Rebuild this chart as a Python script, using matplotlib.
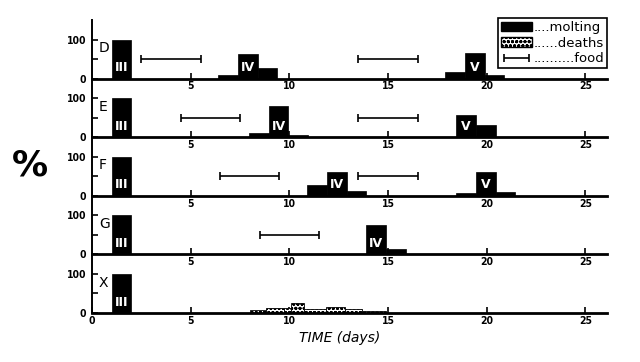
import matplotlib
matplotlib.use('Agg')
import matplotlib.pyplot as plt
from matplotlib.patches import Patch
from matplotlib.container import ErrorbarContainer
from matplotlib.legend_handler import HandlerErrorbar
from matplotlib import font_manager

# ---- data (days, percent) ----
panel_names = ['D', 'E', 'F', 'G', 'X']

molt_left = {
    'D': [1.0, 6.4, 7.4, 8.4, 17.9, 18.9, 19.9],
    'E': [1.0, 7.95, 8.95, 9.95, 18.45, 19.45],
    'F': [1.0, 10.9, 11.9, 12.9, 18.45, 19.45, 20.45],
    'G': [1.0, 13.9, 14.9],
    'X': [1.0],
}
molt_pct = {
    'D': [100, 10, 64, 26, 18, 66, 10],
    'E': [100, 10, 79, 6, 58, 32],
    'F': [100, 28, 62, 12, 8, 62, 10],
    'G': [100, 76, 15],
    'X': [100],
}

# stage labels: (stage, day of bar centre)
stage_labels = {
    'D': [('III', 1.5), ('IV', 7.9), ('V', 19.4)],
    'E': [('III', 1.5), ('IV', 9.45), ('V', 18.95)],
    'F': [('III', 1.5), ('IV', 12.4), ('V', 19.95)],
    'G': [('III', 1.5), ('IV', 14.4)],
    'X': [('III', 1.5)],
}

# feeding periods (start, end)
food = {
    'D': [(2.5, 5.5), (13.5, 16.5)],
    'E': [(4.5, 7.5), (13.5, 16.5)],
    'F': [(6.5, 9.5), (13.5, 16.5)],
    'G': [(8.5, 11.5)],
    'X': [],
}

# deaths in X
death_left = [8.0, 8.8, 9.75, 10.1, 10.75, 11.85, 12.8, 13.7]
death_right = [8.8, 9.75, 10.1, 10.75, 11.85, 12.8, 13.7, 14.9]
death_pct = [7, 14, 14, 26, 9, 16, 9, 4]

xticks = [5, 10, 15, 20, 25]

# narrow bold font for the numbers if there is one
names = {f.name for f in font_manager.fontManager.ttflist}
narrow = 'Liberation Sans Narrow' if 'Liberation Sans Narrow' in names else 'DejaVu Sans'
tick_font = dict(family=narrow, weight='bold', stretch='condensed', size=7.5)

fig = plt.figure(figsize=(6.4, 3.62), dpi=100)
left, right = 92 / 640, 607 / 640
top, bottom = 1 - 20 / 362, 1 - 313 / 362
h = (top - bottom) / len(panel_names)

axes = []
food_handle = None
for i, name in enumerate(panel_names):
    ax = fig.add_axes([left, top - (i + 1) * h, right - left, h])
    ax.patch.set_alpha(0)
    ax.set_xlim(0, 26.1)
    ax.set_ylim(0, 150)
    for s in ['top', 'right']:
        ax.spines[s].set_visible(False)
    ax.spines['bottom'].set_linewidth(2.0)
    ax.spines['left'].set_linewidth(1.4)

    widths = [1.0] * len(molt_left[name])
    ax.bar(molt_left[name], molt_pct[name], width=widths, align='edge',
           color='black', edgecolor='black', linewidth=0.5, zorder=2)

    for lab, xc in stage_labels[name]:
        ax.text(xc, 28, lab, color='white', ha='center', va='center',
                fontsize=9, fontweight='bold', family=narrow, zorder=3)

    for (a, b) in food[name]:
        eb = ax.errorbar((a + b) / 2, 50, xerr=(b - a) / 2, fmt='none',
                         ecolor='black', elinewidth=1.2, capsize=3, capthick=1.2)
        if food_handle is None:
            food_handle = eb

    if name == 'X':
        dw = [r - l for l, r in zip(death_left, death_right)]
        ax.bar(death_left, death_pct, width=dw, align='edge', color='white',
               edgecolor='black', hatch='oooo', linewidth=0.6, zorder=2)
        ax.set_xticks([0] + xticks)
    else:
        ax.set_xticks(xticks)

    ax.tick_params(axis='x', direction='in', length=4, width=1.2, pad=2)
    ax.set_xticklabels([str(t) for t in ax.get_xticks().astype(int)], fontdict=tick_font)

    ax.set_yticks([0, 50, 100])
    ax.set_yticklabels(['0', '', '100'], fontdict=tick_font)
    ax.tick_params(axis='y', direction='in', length=4, width=1.2, pad=4)

    ax.text(0.35, 78, name, fontsize=10, ha='left', va='center')
    axes.append(ax)

# legend in top panel
handles = [
    Patch(facecolor='black', edgecolor='black'),
    Patch(facecolor='white', edgecolor='black', hatch='oooo'),
    food_handle,
]
leg = axes[0].legend(handles, ['....molting', '......deaths', '..........food'],
                     loc='upper right', bbox_to_anchor=(1.0, 1.03), fontsize=9.5,
                     frameon=True, fancybox=False, edgecolor='black',
                     borderpad=0.2, labelspacing=0.2, handlelength=2.4,
                     handletextpad=0.1, borderaxespad=0.0, framealpha=1,
                     handler_map={ErrorbarContainer: HandlerErrorbar(xerr_size=0.95)})
leg.get_frame().set_linewidth(1.2)

fig.text(30 / 640, 1 - 165 / 362, '%', fontsize=26, fontweight='bold',
         family=narrow, ha='center', va='center')
fig.text(340 / 640, 1 - 338 / 362, 'TIME (days)', fontsize=10, style='italic',
         ha='center', va='center')

fig.savefig('out.png', dpi=100)
